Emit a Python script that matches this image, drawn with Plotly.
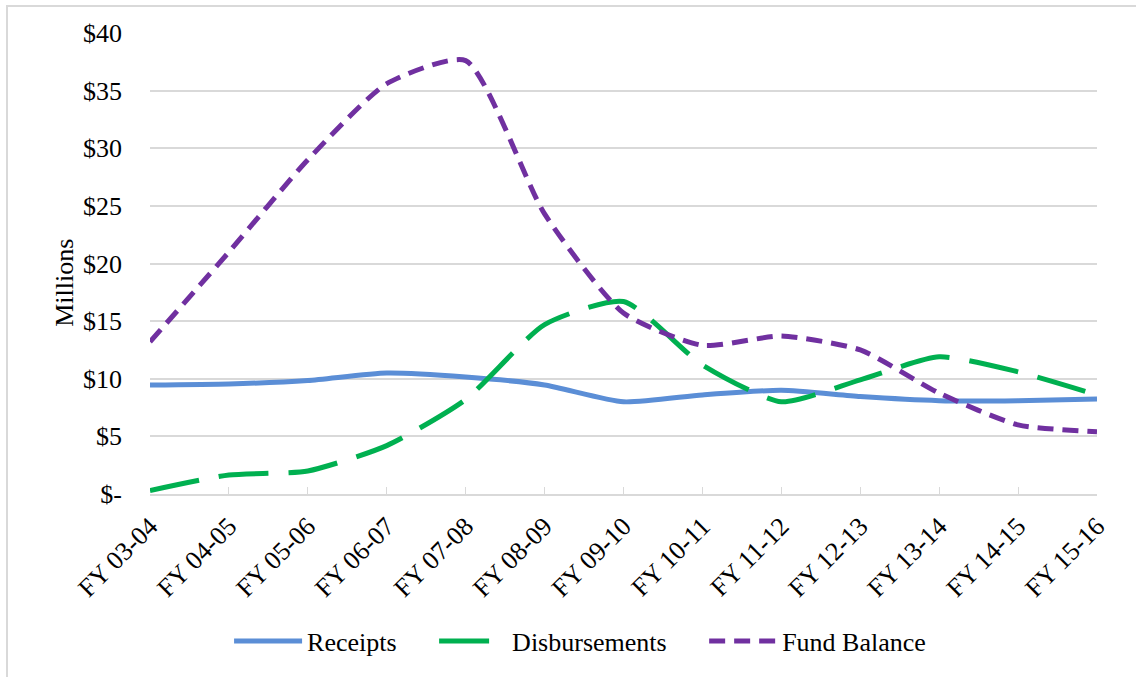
import plotly.graph_objects as go

years = ["FY 03-04", "FY 04-05", "FY 05-06", "FY 06-07", "FY 07-08", "FY 08-09", "FY 09-10",
         "FY 10-11", "FY 11-12", "FY 12-13", "FY 13-14", "FY 14-15", "FY 15-16"]
receipts = [9.46, 9.55, 9.85, 10.5, 10.15, 9.46, 8.0, 8.6, 9.0, 8.45, 8.1, 8.1, 8.25]
disbursements = [0.3, 1.65, 2.0, 4.2, 8.2, 14.7, 16.7, 11.2, 8.0, 9.9, 11.9, 10.6, 8.6]
fund_balance = [13.2, 21.0, 29.0, 35.6, 37.6, 24.3, 15.7, 12.9, 13.7, 12.5, 8.75, 6.0, 5.4]
series_names = ["Receipts", "Disbursements", "Fund Balance"]

y_ticks = [0, 5, 10, 15, 20, 25, 30, 35, 40]
y_ticktext = ["$-", "$5", "$10", "$15", "$20", "$25", "$30", "$35", "$40"]

FONT = "Liberation Serif, Times New Roman, serif"
FS = 26
PAD = "\u00a0" * 5  # spacing between legend entries

fig = go.Figure()
fig.add_trace(go.Scatter(x=years, y=receipts, name=series_names[0] + PAD, mode="lines",
                         line=dict(color="#5B8ED6", width=5, shape="spline", smoothing=0.6)))
fig.add_trace(go.Scatter(x=years, y=disbursements, name=series_names[1] + PAD, mode="lines",
                         line=dict(color="#00B050", width=5, shape="spline", smoothing=0.6,
                                   dash="50px,20px")))
fig.add_trace(go.Scatter(x=years, y=fund_balance, name=series_names[2], mode="lines",
                         line=dict(color="#7030A0", width=5, shape="spline", smoothing=0.6,
                                   dash="16px,9px")))

fig.update_layout(
    width=1136, height=677,
    margin=dict(l=150, r=39, t=33, b=183, autoexpand=False),
    paper_bgcolor="white", plot_bgcolor="white",
    font=dict(family=FONT, size=FS, color="black"),
    showlegend=True,
    legend=dict(orientation="h", x=0.0835, xanchor="left", y=-0.319, yanchor="middle",
                font=dict(family=FONT, size=FS, color="black"), itemwidth=68),
    xaxis=dict(type="category", range=[0, 12], showgrid=False, showline=True,
               linecolor="#d9d9d9", linewidth=1.5, ticks="inside", ticklen=7,
               tickcolor="#d9d9d9", tickangle=-45, ticklabelstandoff=5,
               tickfont=dict(family=FONT, size=FS)),
    yaxis=dict(range=[0, 40], tickvals=y_ticks, ticktext=y_ticktext, showgrid=True,
               gridcolor="#d9d9d9", gridwidth=1.5, zeroline=False, showline=False,
               ticklabelstandoff=27, tickfont=dict(family=FONT, size=FS)),
    annotations=[dict(text="Millions", xref="paper", yref="paper", x=-0.0898, y=0.458,
                      xanchor="center", yanchor="middle",
                      textangle=-90, showarrow=False, font=dict(family=FONT, size=FS))],
    shapes=[dict(type="rect", xref="paper", yref="paper", x0=-0.151, y0=-0.42, x1=1.08, y1=1.0586,
                 line=dict(color="#d9d9d9", width=2), fillcolor="rgba(0,0,0,0)", layer="below")],
)

fig.write_html("out.html", config={"displayModeBar": False},
               post_script="document.body.style.margin='0';")
